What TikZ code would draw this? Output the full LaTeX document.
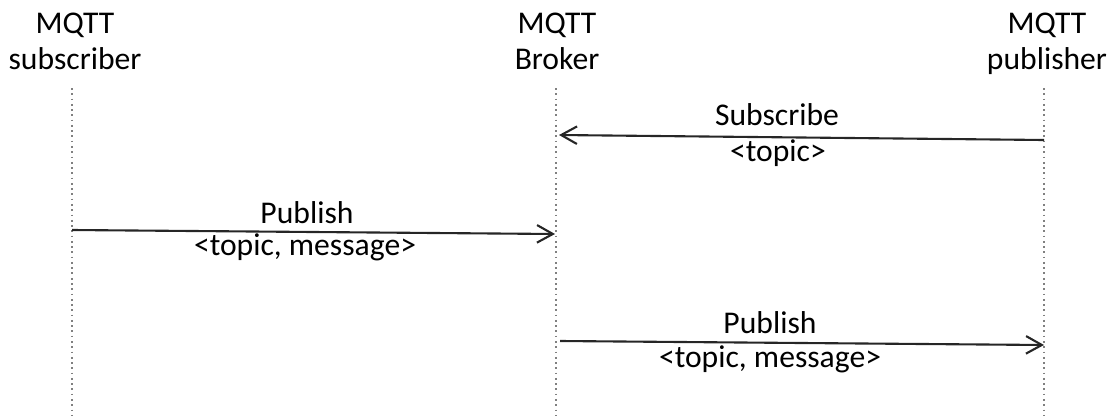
\documentclass[tikz,border=0pt]{standalone}
\usepackage{fontspec}
\setmainfont{Carlito}
\usepackage{tikz}
\usetikzlibrary{arrows.meta}
\usetikzlibrary{positioning}

\tikzset{
  hdr/.style={align=center, inner sep=0pt, anchor=base, font=\fontsize{18}{20.3}\selectfont},
  lbl/.style={inner sep=0pt, anchor=base, font=\fontsize{18}{20.3}\selectfont},
  lifeline/.style={black!50, dotted, line width=1pt},
  msg/.style={black!85, line width=1.2pt, -{Straight Barb[length=9pt, width=10pt]}},
}

\begin{document}
\begin{tikzpicture}[x=0.02cm, y=-0.02cm]

\useasboundingbox (0,0) rectangle (1112,416);

\node at (75,69) [hdr] (sub) {MQTT\\subscriber};
\node at (557,69) [hdr] (brk) {MQTT\\Broker};
\node at (1047,69) [hdr] (pub) {MQTT\\publisher};

\coordinate (subtop) at (72,88);
\coordinate (subbot) at (72,416);
\coordinate (brktop) at (556,88);
\coordinate (brkbot) at (556,416);
\coordinate (pubtop) at (1044,88);
\coordinate (pubbot) at (1044,416);

\draw[lifeline] (subtop) -- (subbot);
\draw[lifeline] (brktop) -- (brkbot);
\draw[lifeline] (pubtop) -- (pubbot);

% subscribe
\coordinate (pubA) at (1044,140);
\coordinate (brkA) at (559,135);
\draw[msg] (pubA) -- (brkA);
\node at (777,125) [lbl] (subscribe) {Subscribe};
\node at (778,161) [lbl] (topicA) {<topic>};

% publish to broker
\coordinate (subB) at (72,230);
\coordinate (brkB) at (555,234);
\draw[msg] (subB) -- (brkB);
\node at (307,223) [lbl] (publishB) {Publish};
\node at (305,255) [lbl] (topicB) {<topic, message>};

% broker forwards
\coordinate (brkC) at (560,341);
\coordinate (pubC) at (1044,345);
\draw[msg] (brkC) -- (pubC);
\node at (770,333) [lbl] (publishC) {Publish};
\node at (770,367) [lbl] (topicC) {<topic, message>};

\end{tikzpicture}
\end{document}
